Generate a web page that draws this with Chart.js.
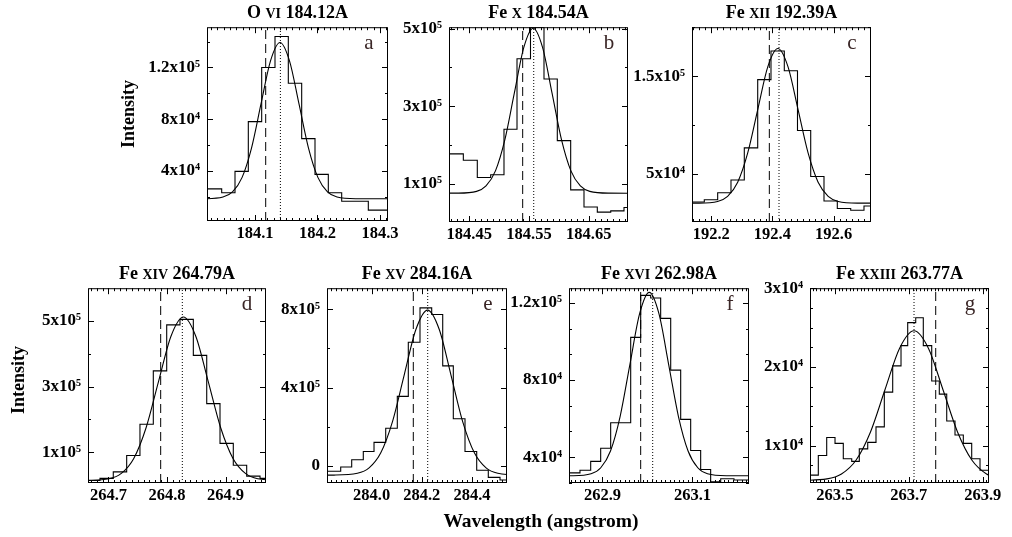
<!DOCTYPE html>
<html>
<head>
<meta charset="utf-8">
<script src="https://cdn.jsdelivr.net/npm/chart.js@4.4.0/dist/chart.umd.min.js"></script>
<style>
  body { margin: 0; background: #fff; }
  #page { position: relative; width: 1012px; height: 537px; overflow: hidden;
          font-family: 'Liberation Serif', 'Times New Roman', serif; font-weight: bold; color: #000; }
  canvas { position: absolute; }
  .ttl { position: absolute; width: 240px; text-align: center; font-size: 18px; line-height: 20px; white-space: nowrap; }
  .ttl span { font-size: 14px; }
  .lab { position: absolute; font-size: 18px; line-height: 24px; text-align: center; white-space: nowrap; }
</style>
</head>
<body>
<div id="page"></div>
<script>
// ---- data ----
// each panel: histogram = bin edges + counts, fit = points of the fitted profile,
// lines = [rest wavelength (dashed), fitted centre (dotted)]

// a: O VI
const aTicksX = ['184.1', '184.2', '184.3'];
const aTicksY = [40000, 80000, 120000];
const aLabelsY = ['4x10⁴', '8x10⁴', '1.2x10⁵'];
const aEdges = [184.0232, 184.0467, 184.068, 184.0893, 184.1107, 184.132, 184.1533, 184.1747, 184.196, 184.2173, 184.2387, 184.26, 184.2813, 184.3128];
const aCounts = [26000, 23000, 39500, 78100, 120000, 144000, 107800, 64900, 37200, 23000, 16400, 16400, 9500];
const aFitX = [184.0, 184.0184, 184.0488, 184.064, 184.0792, 184.0944, 184.1096, 184.1248, 184.14, 184.1552, 184.1704, 184.1856, 184.2008, 184.216, 184.2312, 184.2616, 184.33];
const aFitY = [18300, 18340, 19640, 23620, 34690, 57620, 91750, 125170, 139400, 125170, 91750, 57620, 34690, 23620, 19640, 18340, 18300];
const aLines = [184.1171, 184.1406];

// b: Fe X
const bTicksX = ['184.45', '184.55', '184.65'];
const bTicksY = [100000, 300000, 500000];
const bLabelsY = ['1x10⁵', '3x10⁵', '5x10⁵'];
const bEdges = [184.416, 184.44, 184.4634, 184.4858, 184.5081, 184.5299, 184.5525, 184.5751, 184.5974, 184.6198, 184.6421, 184.6644, 184.6869, 184.7091, 184.7158];
const bCounts = [177150, 160400, 116240, 123090, 240600, 422580, 503000, 370040, 211160, 84260, 40100, 26650, 29950, 38580];
const bFitX = [184.40, 184.4306, 184.4622, 184.478, 184.4938, 184.5096, 184.5254, 184.5412, 184.557, 184.5728, 184.5886, 184.6044, 184.6202, 184.636, 184.6518, 184.6834, 184.73];
const bFitY = [75630, 75760, 80350, 94320, 133220, 213830, 333770, 451240, 501250, 451240, 333770, 213830, 133220, 94320, 80350, 75760, 75630];
const bLines = [184.5394, 184.5579];

// c: Fe XII
const cTicksX = ['192.2', '192.4', '192.6'];
const cTicksY = [50000, 150000];
const cLabelsY = ['5x10⁴', '1.5x10⁵'];
const cEdges = [192.1373, 192.1775, 192.2212, 192.2647, 192.3082, 192.352, 192.3954, 192.4389, 192.482, 192.5252, 192.5686, 192.6121, 192.6559, 192.6993, 192.7222];
const cCounts = [21400, 23820, 30870, 43960, 76790, 146670, 175880, 155740, 94610, 47580, 22410, 14760, 13040, 17370];
const cFitX = [192.12, 192.1552, 192.2209, 192.2537, 192.2866, 192.3194, 192.3523, 192.3851, 192.418, 192.4509, 192.4837, 192.5166, 192.5494, 192.5823, 192.6151, 192.6808, 192.74];
const cFitY = [20290, 20340, 22050, 27240, 41690, 71660, 116240, 159900, 178490, 159900, 116240, 71660, 41690, 27240, 22050, 20340, 20290];
const cLines = [192.39, 192.4216];

// d: Fe XIV
const dTicksX = ['264.7', '264.8', '264.9'];
const dTicksY = [100000, 300000, 500000];
const dLabelsY = ['1x10⁵', '3x10⁵', '5x10⁵'];
const dEdges = [264.665, 264.6855, 264.7082, 264.7311, 264.7538, 264.7766, 264.7995, 264.8222, 264.845, 264.8679, 264.8906, 264.9133, 264.9362, 264.959, 264.9692];
const dCounts = [13640, 20240, 40030, 90100, 185160, 347980, 488010, 504800, 395050, 248130, 126990, 60120, 27140, 20240];
const dFitX = [264.6584, 264.7008, 264.722, 264.7432, 264.7644, 264.7856, 264.8068, 264.828, 264.8492, 264.8704, 264.8916, 264.9128, 264.934, 264.9552, 264.9976];
const dFitY = [13750, 19130, 35480, 81030, 175430, 315880, 453440, 512000, 453440, 315880, 175430, 81030, 35480, 19130, 13750];
const dLines = [264.7892, 264.8262];

// e: Fe XV
const eTicksX = ['284.0', '284.2', '284.4'];
const eTicksY = [0, 400000, 800000];
const eLabelsY = ['0', '4x10⁵', '8x10⁵'];
const eEdges = [283.8223, 283.8769, 283.9207, 283.9669, 284.0096, 284.0562, 284.1024, 284.1462, 284.1928, 284.2394, 284.2833, 284.3255, 284.3721, 284.4187, 284.4649, 284.5116, 284.5394];
const eCounts = [-27670, -6040, 31190, 72950, 119740, 192180, 354690, 631390, 807480, 773770, 510650, 240480, 72950, -22640, -59370, -72950];
const eFitX = [283.80, 283.8502, 283.9434, 283.99, 284.0366, 284.0832, 284.1298, 284.1764, 284.223, 284.2696, 284.3162, 284.3628, 284.4094, 284.456, 284.5026, 284.5958];
const eFitY = [-47800, -47550, -38440, -10760, 66350, 226150, 463900, 696770, 795900, 696770, 463900, 226150, 66350, -10760, -38440, -47550];
const eLines = [284.1661, 284.2235];

// f: Fe XVI
const fTicksX = ['262.9', '263.1'];
const fTicksY = [40000, 80000, 120000];
const fLabelsY = ['4x10⁴', '8x10⁴', '1.2x10⁵'];
const fEdges = [262.8256, 262.85, 262.8738, 262.896, 262.9182, 262.9404, 262.9627, 262.9849, 263.0071, 263.0293, 263.0516, 263.0738, 263.096, 263.1182, 263.1404, 263.1627, 263.1922, 263.2256];
const fCounts = [31840, 33210, 37810, 44590, 57860, 57860, 102090, 123880, 122500, 111940, 85100, 59590, 43420, 33570, 27250, 28780, 28110];
const fFitX = [262.81, 262.8316, 262.8747, 262.8962, 262.9178, 262.9393, 262.9609, 262.9824, 263.004, 263.0256, 263.0471, 263.0687, 263.0902, 263.1118, 263.1333, 263.1764, 263.24];
const fFitY = [30310, 30340, 31370, 34490, 43180, 61190, 87990, 114240, 125410, 114240, 87990, 61190, 43180, 34490, 31370, 30340, 30310];
const fLines = [262.9849, 263.0116];

// g: Fe XXIII
const gTicksX = ['263.5', '263.7', '263.9'];
const gTicksY = [10000, 20000, 30000];
const gLabelsY = ['1x10⁴', '2x10⁴', '3x10⁴'];
const gEdges = [263.4326, 263.4551, 263.4778, 263.5003, 263.5227, 263.5455, 263.566, 263.5888, 263.6112, 263.6337, 263.6564, 263.6789, 263.697, 263.7187, 263.7392, 263.762, 263.7825, 263.8026, 263.825, 263.8475, 263.8702, 263.8927, 263.917];
const gCounts = [6250, 8750, 11040, 10290, 8340, 8000, 9590, 10410, 12375, 16790, 20125, 22710, 25625, 26250, 22710, 18210, 16540, 13125, 11340, 10290, 8340, 6875];
const gFitX = [263.40, 263.4785, 263.5178, 263.557, 263.5963, 263.6355, 263.6748, 263.714, 263.7533, 263.7925, 263.8318, 263.871, 263.9103, 263.9495];
const gFitY = [5566, 5771, 6395, 8135, 11740, 17100, 22350, 24590, 22350, 17100, 11740, 8135, 6395, 5771];
const gLines = [263.7728, 263.7141];

// ---- layout ----
const panels = [
  {id: 'a', box: [207, 24, 388, 221], xr: [184.0232, 184.3128], yr: [1100, 151200], tx: aTicksX, ty: aTicksY, ly: aLabelsY,
   edges: aEdges, counts: aCounts, fx: aFitX, fy: aFitY, lines: aLines, xm: 0.01, ym: 20000, title: ['O ', 'VI', ' 184.12A']},
  {id: 'b', box: [449, 24, 628, 222], xr: [184.416, 184.7158], yr: [1300, 503800], tx: bTicksX, ty: bTicksY, ly: bLabelsY,
   edges: bEdges, counts: bCounts, fx: bFitX, fy: bFitY, lines: bLines, xm: 0.01, ym: 100000, title: ['Fe ', 'X', ' 184.54A']},
  {id: 'c', box: [692, 24, 871, 222], xr: [192.1373, 192.7222], yr: [1000, 200300], tx: cTicksX, ty: cTicksY, ly: cLabelsY,
   edges: cEdges, counts: cCounts, fx: cFitX, fy: cFitY, lines: cLines, xm: 0.02, ym: 50000, title: ['Fe ', 'XII', ' 192.39A']},
  {id: 'd', box: [88, 285, 266, 483], xr: [264.665, 264.9692], yr: [6150, 599850], tx: dTicksX, ty: dTicksY, ly: dLabelsY,
   edges: dEdges, counts: dCounts, fx: dFitX, fy: dFitY, lines: dLines, xm: 0.01, ym: 100000, title: ['Fe ', 'XIV', ' 264.79A']},
  {id: 'e', box: [327, 285, 507, 483], xr: [283.8223, 284.5394], yr: [-88040, 908100], tx: eTicksX, ty: eTicksY, ly: eLabelsY,
   edges: eEdges, counts: eCounts, fx: eFitX, fy: eFitY, lines: eLines, xm: 0.02, ym: 200000, title: ['Fe ', 'XV', ' 284.16A']},
  {id: 'f', box: [569, 285, 749, 483], xr: [262.8256, 263.2256], yr: [26580, 127600], tx: fTicksX, ty: fTicksY, ly: fLabelsY,
   edges: fEdges, counts: fCounts, fx: fFitX, fy: fFitY, lines: fLines, xm: 0.01, ym: 40000 / 3, title: ['Fe ', 'XVI', ' 262.98A']},
  {id: 'g', box: [810, 285, 989, 483], xr: [263.4326, 263.917], yr: [5250, 30000], tx: gTicksX, ty: gTicksY, ly: gLabelsY,
   edges: gEdges, counts: gCounts, fx: gFitX, fy: gFitY, lines: gLines, xm: 0.01, ym: 2500, title: ['Fe ', 'XXIII', ' 263.77A']}
];

const YW = 70, PT = 14, PR = 26, XH = 32;
const FONT = "'Liberation Serif', 'Times New Roman', serif";
const page = document.getElementById('page');

function steps(min, max, step) {
  const out = [];
  for (let k = Math.ceil(min / step - 1e-6); k * step <= max + 1e-9; k++) out.push(k * step);
  return out;
}

function makePanel(p) {
  const [L, T, R, B] = p.box;
  const w = R - L + YW + PR, h = B - T + PT + XH;
  const cv = document.createElement('canvas');
  cv.width = w; cv.height = h;
  cv.style.left = (L - YW) + 'px'; cv.style.top = (T - PT) + 'px';
  cv.style.width = w + 'px'; cv.style.height = h + 'px';
  page.appendChild(cv);

  const n = p.counts.length;
  const hist = p.edges.map((x, i) => ({x: x, y: p.counts[Math.min(i, n - 1)]}));
  const fit = p.fx.map((x, i) => ({x: x, y: p.fy[i]}));
  const vline = v => [{x: v, y: p.yr[0]}, {x: v, y: p.yr[1]}];

  // box with inward major/minor ticks on all four sides, plus panel letter
  const frame = {
    id: 'frame' + p.id,
    afterDatasetsDraw(chart) {
      const {ctx, chartArea: a, scales: {x, y}} = chart;
      ctx.save();
      ctx.strokeStyle = '#000';
      ctx.lineWidth = 1;
      ctx.strokeRect(a.left + 0.5, a.top + 0.5, a.width - 1, a.height - 1);
      ctx.beginPath();
      const xt = (v, len) => {
        const px = Math.round(x.getPixelForValue(v)) + 0.5;
        ctx.moveTo(px, a.bottom); ctx.lineTo(px, a.bottom - len);
        ctx.moveTo(px, a.top); ctx.lineTo(px, a.top + len);
      };
      const yt = (v, len) => {
        const py = Math.round(y.getPixelForValue(v)) + 0.5;
        ctx.moveTo(a.left, py); ctx.lineTo(a.left + len, py);
        ctx.moveTo(a.right, py); ctx.lineTo(a.right - len, py);
      };
      steps(p.xr[0], p.xr[1], p.xm).forEach(v => xt(v, 3));
      p.tx.forEach(t => xt(parseFloat(t), 6));
      steps(p.yr[0], p.yr[1], p.ym).forEach(v => yt(v, 3));
      p.ty.forEach(v => yt(v, 6));
      ctx.stroke();
      ctx.fillStyle = '#3a2626';
      ctx.font = '21px ' + FONT;
      ctx.textAlign = 'center';
      ctx.textBaseline = 'middle';
      ctx.fillText(p.id, a.right - 19, a.top + 16);
      ctx.restore();
    }
  };

  const xFont = {family: FONT, size: 16.5, weight: 'bold'};
  const yFont = {family: FONT, size: 17, weight: 'bold'};
  new Chart(cv, {
    type: 'line',
    data: {
      datasets: [
        {data: hist, stepped: 'before', borderColor: '#000', borderWidth: 1.1, pointRadius: 0, fill: false},
        {data: fit, cubicInterpolationMode: 'monotone', borderColor: '#000', borderWidth: 1.1, pointRadius: 0, fill: false},
        {data: vline(p.lines[0]), borderColor: '#000', borderWidth: 1, borderDash: [9, 5], pointRadius: 0},
        {data: vline(p.lines[1]), borderColor: '#000', borderWidth: 1, borderDash: [1, 2], pointRadius: 0}
      ]
    },
    options: {
      responsive: false, animation: false, devicePixelRatio: 1,
      layout: {padding: {left: 0, top: PT, right: PR, bottom: 0}},
      plugins: {legend: {display: false}, tooltip: {enabled: false}, title: {display: false}},
      scales: {
        x: {
          type: 'linear', min: p.xr[0], max: p.xr[1],
          grid: {display: false, drawTicks: false}, border: {display: false},
          afterBuildTicks: s => { s.ticks = p.tx.map(t => ({value: parseFloat(t)})); },
          afterFit: s => { s.height = XH; },
          ticks: {autoSkip: false, maxRotation: 0, minRotation: 0, padding: 3, color: '#000', font: xFont,
                  callback: (v, i) => p.tx[i]}
        },
        y: {
          type: 'linear', min: p.yr[0], max: p.yr[1],
          grid: {display: false, drawTicks: false}, border: {display: false},
          afterBuildTicks: s => { s.ticks = p.ty.map(v => ({value: v})); },
          afterFit: s => { s.width = YW; },
          ticks: {autoSkip: false, padding: 7, color: '#000', font: yFont,
                  callback: (v, i) => p.ly[i]}
        }
      }
    },
    plugins: [frame]
  });

  // title with small-caps ionisation stage
  const t = document.createElement('div');
  t.className = 'ttl';
  t.style.left = ((L + R) / 2 - 120) + 'px';
  t.style.top = (T - 22) + 'px';
  t.innerHTML = p.title[0] + '<span>' + p.title[1] + '</span>' + p.title[2];
  page.appendChild(t);
}

panels.forEach(makePanel);

function label(text, cx, cy, w, size, rot) {
  const d = document.createElement('div');
  d.className = 'lab';
  d.textContent = text;
  d.style.fontSize = size + 'px';
  d.style.width = w + 'px';
  d.style.left = (cx - w / 2) + 'px';
  d.style.top = (cy - 12) + 'px';
  if (rot) d.style.transform = 'rotate(-90deg)';
  page.appendChild(d);
}
label('Intensity', 128, 114, 120, 18, true);
label('Intensity', 18, 380, 120, 18, true);
label('Wavelength (angstrom)', 541, 521, 300, 19.5, false);
</script>
</body>
</html>
